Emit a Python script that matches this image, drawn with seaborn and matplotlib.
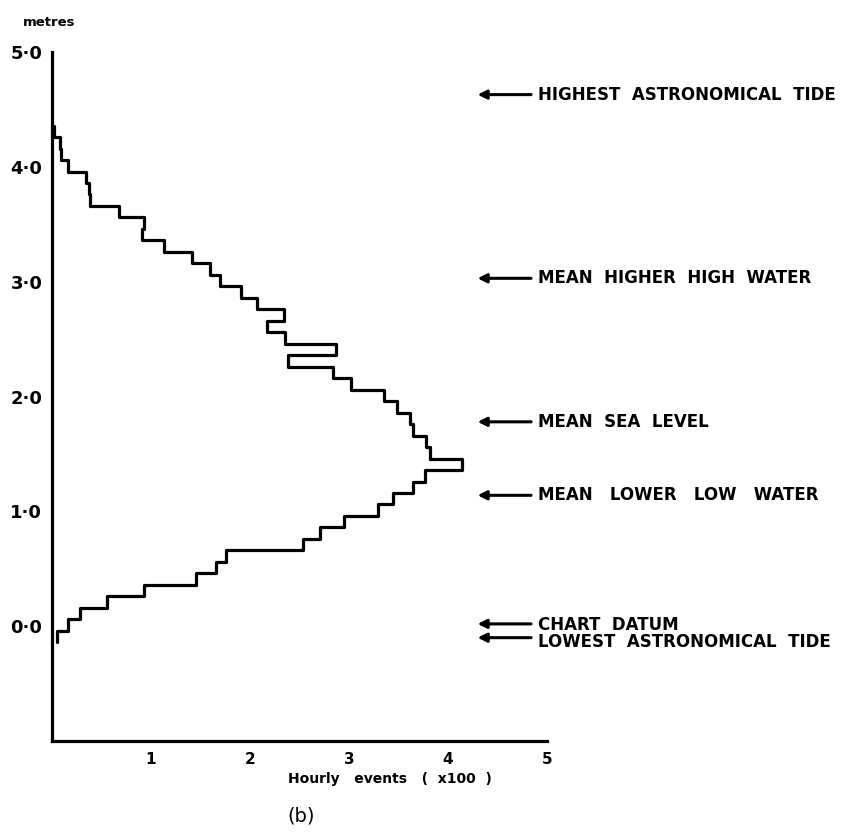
import numpy as np
import pandas as pd
import matplotlib
matplotlib.use("Agg")
import matplotlib.pyplot as plt
import seaborn as sns

# ---- data ----
# water level bins (metres, 0.1 m classes) and hourly counts (x100)
levels = [-0.1, 0.0, 0.1, 0.2, 0.3, 0.4, 0.5, 0.6, 0.7, 0.8, 0.9,
          1.0, 1.1, 1.2, 1.3, 1.4, 1.5, 1.6, 1.7, 1.8, 1.9,
          2.0, 2.1, 2.2, 2.3, 2.4, 2.5, 2.6, 2.7, 2.8, 2.9,
          3.0, 3.1, 3.2, 3.3, 3.4, 3.5, 3.6, 3.7, 3.8, 3.9,
          4.0, 4.1, 4.2, 4.3]
counts = [0.05, 0.16, 0.28, 0.56, 0.93, 1.46, 1.66, 1.76, 2.54, 2.71, 2.95,
          3.29, 3.45, 3.65, 3.77, 4.14, 3.82, 3.78, 3.65, 3.62, 3.49,
          3.35, 3.02, 2.84, 2.38, 2.87, 2.35, 2.17, 2.34, 2.07, 1.91,
          1.70, 1.60, 1.41, 1.13, 0.91, 0.93, 0.68, 0.38, 0.37, 0.34,
          0.165, 0.09, 0.08, 0.02]
bin_width = 0.1
bin_shift = 0.01

y_ticks = [0.0, 1.0, 2.0, 3.0, 4.0, 5.0]
y_ticklabels = ["0·0", "1·0", "2·0", "3·0", "4·0", "5·0"]
x_ticks = [1, 2, 3, 4, 5]
x_ticklabels = ["1", "2", "3", "4", "5"]

datum_labels = ["HIGHEST  ASTRONOMICAL  TIDE", "MEAN  HIGHER  HIGH  WATER",
                "MEAN  SEA  LEVEL", "MEAN   LOWER   LOW   WATER",
                "CHART  DATUM", "LOWEST  ASTRONOMICAL  TIDE"]
datum_levels = [4.63, 3.03, 1.78, 1.14, 0.02, -0.10]
datum_text_levels = [4.63, 3.03, 1.78, 1.14, 0.01, -0.14]

df = pd.DataFrame({"level": levels, "count": counts})
edges = [round(levels[0] - bin_width / 2 + bin_shift + i * bin_width, 3)
         for i in range(len(levels) + 1)]

sns.set_style("white")
plt.rcParams["font.family"] = ["DejaVu Sans"]
for k in ["text.color", "axes.labelcolor", "xtick.color", "ytick.color"]:
    plt.rcParams[k] = "black"

fig = plt.figure(figsize=(8.41, 8.34), dpi=100)
ax = fig.add_axes([0.0618, 0.1115, 0.5885, 0.826])

sns.histplot(data=df, y="level", weights="count", bins=edges,
             element="step", fill=False, color="black", linewidth=2.3, ax=ax)

ax.set_xlim(0, 5)
ax.set_ylim(-1.0, 5.0)
for s in ["top", "right"]:
    ax.spines[s].set_visible(False)
for s in ["left", "bottom"]:
    ax.spines[s].set_linewidth(2.3)
    ax.spines[s].set_color("black")

ax.set_yticks(y_ticks)
ax.set_yticklabels(y_ticklabels, fontsize=13, fontweight="bold")
ax.set_xticks(x_ticks)
ax.set_xticklabels(x_ticklabels, fontsize=11, fontweight="bold")
ax.tick_params(axis="both", direction="in", length=6, width=2, color="black")
ax.tick_params(axis="y", pad=7)
ax.tick_params(axis="x", pad=8)
ax.set_xlabel("")
ax.set_ylabel("")

fig.text(390 / 841, 1 - 779 / 834, "Hourly   events   (  x100  )", fontsize=10,
         fontweight="bold", ha="center", va="center")
fig.text(23 / 841, 1 - 22 / 834, "metres", fontsize=9.5, fontweight="bold",
         ha="left", va="center")
fig.text(301 / 841, 1 - 816 / 834, "(b)", fontsize=14, ha="center", va="center")

for lab, lev, tlev in zip(datum_labels, datum_levels, datum_text_levels):
    ax.annotate("", xy=(4.30, lev), xytext=(4.84, lev), xycoords="data",
                textcoords="data", annotation_clip=False,
                arrowprops=dict(arrowstyle="-|>", color="black", lw=2.2,
                                mutation_scale=13, shrinkA=0, shrinkB=0))
    ax.text(4.91, tlev, lab, fontsize=12, fontweight="bold", ha="left",
            va="center", clip_on=False)

fig.savefig("out.png", dpi=100, facecolor="white")
